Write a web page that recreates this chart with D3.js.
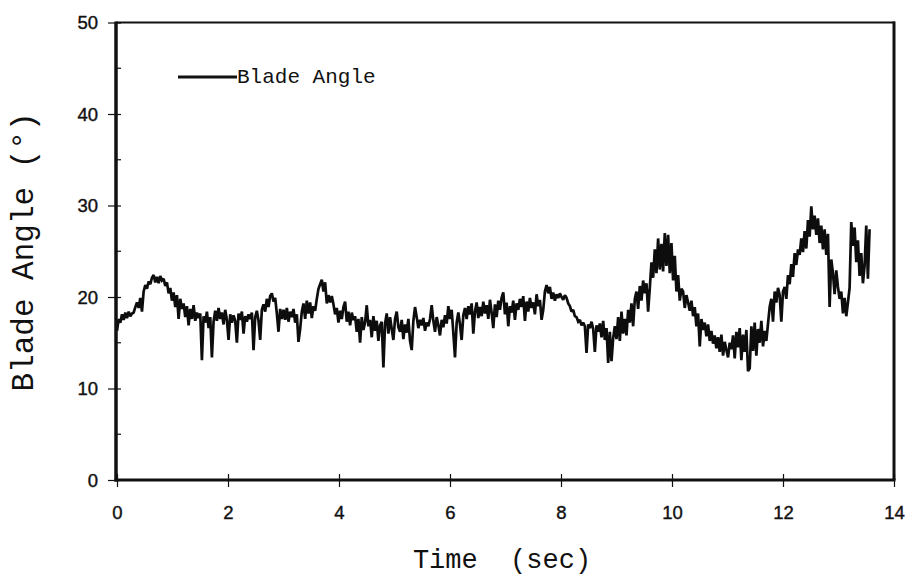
<!DOCTYPE html>
<html>
<head>
<meta charset="utf-8">
<script src="https://cdn.jsdelivr.net/npm/d3@7"></script>
<style>
  html, body { margin: 0; padding: 0; background: #fff; }
  svg { display: block; }
</style>
</head>
<body>
<svg id="chart" width="907" height="576"></svg>
<script>
// Blade angle recording, one sample every timeStep seconds starting at t = 0
const timeStep = 0.03;
const bladeAngle = [
  16.3, 17.6, 17.2, 18.1, 17.5, 18.3, 17.7, 18.4, 17.9, 18.2,
  18.3, 18.9, 19.4, 18.8, 19.9, 18.4, 20.6, 21.3, 20.9, 21.7,
  21.4, 22.1, 22.4, 21.6, 22.2, 21.5, 22.3, 21.8, 22.0, 21.2,
  21.6, 20.4, 21.0, 19.6, 20.5, 18.9, 20.2, 17.6, 19.8, 18.7,
  19.3, 17.8, 19.0, 16.9, 18.7, 17.6, 19.1, 17.4, 18.3, 17.7,
  18.2, 13.1, 17.9, 17.2, 18.4, 16.6, 17.8, 13.4, 17.3, 18.5,
  17.4, 18.8, 17.6, 18.3, 17.0, 18.6, 17.5, 15.3, 18.1, 17.2,
  18.0, 17.4, 15.0, 18.2, 17.5, 18.4, 16.0, 17.9, 17.3, 18.1,
  17.6, 18.3, 14.2, 17.8, 18.5, 17.4, 15.3, 18.6, 19.2, 18.4,
  19.8, 18.9, 20.1, 20.4, 19.5, 19.9, 18.2, 16.2, 18.7, 17.6,
  18.6, 17.5, 18.8, 17.3, 18.4, 17.8, 18.7, 17.2, 18.1, 15.1,
  16.5, 18.4, 19.3, 17.6, 19.6, 18.2, 19.4, 17.7, 19.0, 18.5,
  19.8, 20.9, 21.4, 21.9, 20.6, 21.6, 19.3, 20.2, 19.4, 20.1,
  19.2, 18.1, 18.8, 17.2, 18.5, 17.6, 18.9, 19.5, 17.3, 18.4,
  16.9, 18.3, 17.5, 17.9, 16.2, 17.6, 15.0, 17.8, 16.4, 17.2,
  19.1, 16.8, 17.5, 15.6, 17.9, 16.3, 17.4, 15.2, 16.9, 17.3,
  12.3, 17.1, 18.2, 16.0, 17.8, 16.5, 15.3, 17.6, 18.4, 16.7,
  16.2, 17.5, 15.4, 17.0, 16.1, 17.6, 15.2, 14.2, 17.4, 18.9,
  17.8, 16.6, 17.5, 16.9, 17.7, 16.3, 17.2, 16.8, 17.6, 19.1,
  17.4, 16.2, 17.8, 16.9, 15.8, 17.5, 16.7, 18.0, 17.1, 19.0,
  17.6, 18.6, 16.1, 13.4, 17.2, 18.3, 17.0, 15.3, 18.0, 18.8,
  17.6, 19.0, 18.1, 19.3, 16.0, 18.4, 19.4, 17.7, 18.9, 17.9,
  19.5, 18.2, 19.1, 17.6, 19.7, 18.3, 16.6, 19.2, 17.8, 19.6,
  18.6, 19.9, 20.5, 18.1, 19.4, 16.8, 19.0, 18.3, 19.6, 17.5,
  19.3, 18.6, 19.8, 18.9, 20.1, 17.4, 19.5, 18.4, 19.9, 18.8,
  19.4, 18.1, 20.3, 19.0, 19.7, 17.5, 18.6, 20.6, 21.3, 20.4,
  21.1, 19.8, 20.5, 19.6, 20.3, 19.9, 20.4, 20.0, 19.7, 20.2,
  19.9, 19.3, 19.0, 18.4, 18.6, 17.9, 17.8, 17.3, 17.5, 16.9,
  17.2, 16.8, 13.9, 17.0, 16.6, 17.3, 16.5, 14.0, 16.9, 16.2,
  17.1, 15.6, 17.4, 15.3, 16.6, 12.8, 16.2, 13.0, 15.5, 16.8,
  15.4, 17.8, 15.2, 18.4, 16.0, 17.6, 15.8, 18.6, 17.2, 19.3,
  16.8, 19.8, 20.6, 18.7, 21.2, 19.6, 21.8, 20.4, 21.5, 18.4,
  21.0, 23.8, 22.1, 25.2, 22.6, 26.4, 23.0, 25.8, 22.8, 27.0,
  23.4, 26.8, 22.6, 25.9, 21.8, 24.5, 20.6, 22.4, 19.6, 20.9,
  20.6, 18.8, 20.2, 19.4, 18.5, 19.6, 17.9, 18.9, 16.8, 18.2,
  14.6, 17.6, 16.4, 17.2, 15.7, 17.0, 15.2, 16.3, 14.9, 15.8,
  14.4, 15.6, 14.0, 15.9, 13.6, 15.1, 14.2, 13.4, 15.0, 14.3,
  15.8, 13.3, 16.2, 14.5, 16.6, 13.1, 15.9, 14.0, 16.4, 11.9,
  12.2, 16.8, 14.1, 17.2, 13.6, 16.5, 15.0, 17.4, 14.6, 16.3,
  15.2, 17.1, 18.9, 19.8, 17.3, 20.6, 19.4, 21.0, 20.2, 17.3,
  20.6, 21.1, 19.8, 22.4, 21.4, 23.6, 22.2, 24.8, 23.5, 25.2,
  24.6, 26.4, 24.9, 27.2, 25.3, 28.4, 26.6, 29.9, 27.4, 28.9,
  26.8, 28.6, 25.9, 27.8, 25.2, 27.4, 24.6, 26.9, 18.9, 24.1,
  22.6, 20.3, 22.9, 21.1, 19.8, 20.6, 18.2, 19.9, 17.9, 19.4,
  21.0, 28.2, 25.6, 27.6, 23.8, 26.2, 22.3, 24.8, 21.5, 23.4,
  27.8, 22.0, 27.4
];

const xTickValues = [0, 2, 4, 6, 8, 10, 12, 14];
const yTickValues = [0, 10, 20, 30, 40, 50];
const yMinorTickValues = [5, 15, 25, 35, 45];
const seriesName = "Blade Angle";
const xTitle = "Time  (sec)";
const yTitle = "Blade Angle (\u00B0)";

const svg = d3.select("#chart");
const plotLeft = 117, plotRight = 894, plotTop = 22.5, plotBottom = 480;

const x = d3.scaleLinear().domain([0, 14]).range([plotLeft, plotRight]);
const y = d3.scaleLinear().domain([0, 50]).range([plotBottom, plotTop]);

svg.append("rect").attr("width", 907).attr("height", 576).attr("fill", "#fff");

const tickFont = "'Liberation Sans', Arial, Helvetica, sans-serif";
const monoFont = "'Courier New', 'Nimbus Mono PS', 'Liberation Mono', monospace";

// data trace
const points = bladeAngle.map((v, i) => ({ t: i * timeStep, v }));
const line = d3.line().x(d => x(d.t)).y(d => y(d.v));
svg.append("path")
  .datum(points)
  .attr("d", line)
  .attr("fill", "none")
  .attr("stroke", "#0d0d0d")
  .attr("stroke-width", 2.7)
  .attr("stroke-linejoin", "miter")
  .attr("stroke-miterlimit", 2);

// frame: heavy left/bottom axes, lighter top/right
svg.append("line").attr("x1", plotLeft - 1).attr("x2", plotRight + 1).attr("y1", plotTop).attr("y2", plotTop)
  .attr("stroke", "#111").attr("stroke-width", 2.2);
svg.append("line").attr("x1", plotRight).attr("x2", plotRight).attr("y1", plotTop - 1).attr("y2", plotBottom)
  .attr("stroke", "#111").attr("stroke-width", 3);
svg.append("line").attr("x1", plotLeft - 1).attr("x2", plotLeft - 1).attr("y1", plotTop - 1).attr("y2", plotBottom + 1.5)
  .attr("stroke", "#111").attr("stroke-width", 3.5);
svg.append("line").attr("x1", plotLeft - 2.5).attr("x2", plotRight + 1.5).attr("y1", plotBottom).attr("y2", plotBottom)
  .attr("stroke", "#111").attr("stroke-width", 3.2);

// x axis
const gx = svg.append("g")
  .attr("transform", `translate(0,${plotBottom})`)
  .call(d3.axisBottom(x).tickValues(xTickValues).tickFormat(d3.format("d")).tickSize(7).tickPadding(0));
gx.select(".domain").remove();
gx.selectAll(".tick line").attr("y1", -6).attr("y2", 7).attr("stroke", "#111").attr("stroke-width", 1.2);
gx.selectAll(".tick text")
  .attr("y", 39).attr("dy", null)
  .attr("fill", "#111")
  .attr("stroke", "#111").attr("stroke-width", 0.4)
  .style("font-family", tickFont).style("font-size", "18.5px");

// y axis
const gy = svg.append("g")
  .attr("transform", `translate(${plotLeft},0)`)
  .call(d3.axisLeft(y).tickValues(yTickValues).tickFormat(d3.format("d")).tickSize(8).tickPadding(0));
gy.select(".domain").remove();
gy.selectAll(".tick line").attr("x1", 4).attr("x2", -9).attr("stroke", "#111").attr("stroke-width", 1.2);
gy.selectAll(".tick text")
  .attr("x", -19).attr("dy", "0.35em")
  .attr("fill", "#111")
  .attr("stroke", "#111").attr("stroke-width", 0.4)
  .style("font-family", tickFont).style("font-size", "18.5px");

// minor y ticks on the inside
svg.append("g").selectAll("line")
  .data(yMinorTickValues)
  .join("line")
  .attr("x1", plotLeft).attr("x2", plotLeft + 4)
  .attr("y1", d => y(d)).attr("y2", d => y(d))
  .attr("stroke", "#111").attr("stroke-width", 1.2);

// axis titles
svg.append("text")
  .attr("x", 502).attr("y", 568)
  .attr("text-anchor", "middle")
  .attr("fill", "#111")
  .style("font-family", monoFont).style("font-size", "27px")
  .style("white-space", "pre")
  .text(xTitle);

svg.append("text")
  .attr("transform", "translate(33,252) rotate(-90)")
  .attr("text-anchor", "middle")
  .attr("fill", "#111")
  .style("font-family", monoFont).style("font-size", "31px")
  .text(yTitle);

// legend
const legend = svg.append("g");
legend.append("line")
  .attr("x1", 178).attr("x2", 237).attr("y1", 77).attr("y2", 77)
  .attr("stroke", "#111").attr("stroke-width", 2.8);
legend.append("text")
  .attr("x", 237).attr("y", 83)
  .attr("fill", "#111")
  .style("font-family", monoFont).style("font-size", "21px")
  .text(seriesName);
</script>
</body>
</html>
